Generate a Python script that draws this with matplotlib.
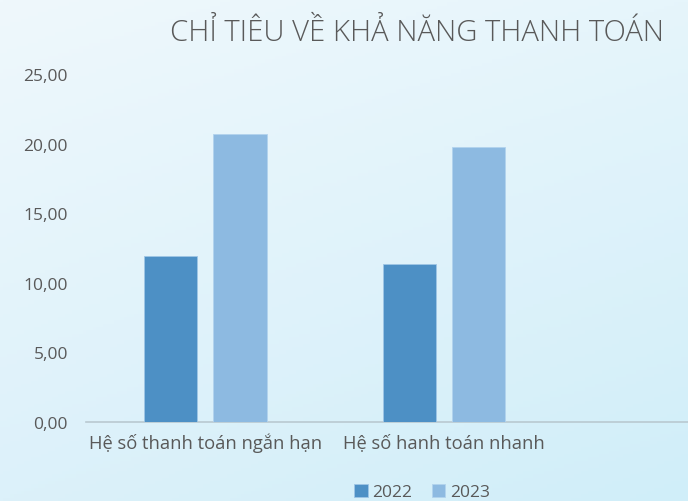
import numpy as np
import matplotlib
matplotlib.use("Agg")
import matplotlib.pyplot as plt

# Data
categories = ["Hệ số thanh toán ngắn hạn", "Hệ số hanh toán nhanh", ""]
series_names = ["2022", "2023"]
values_2022 = [11.93, 11.32]
values_2023 = [20.70, 19.73]
y_ticks = [0, 5, 10, 15, 20, 25]
y_tick_labels = ["0,00", "5,00", "10,00", "15,00", "20,00", "25,00"]
title = "CHỈ TIÊU VỀ KHẢ NĂNG THANH TOÁN"

plt.rcParams["font.family"] = ["Open Sans", "DejaVu Sans"]

text_color = "#595959"
color_2022 = "#4d90c5"
color_2023 = "#8dbae1"

fig = plt.figure(figsize=(6.88, 5.02), dpi=100)

# soft blue gradient background
bg = fig.add_axes([0, 0, 1, 1], zorder=-10)
bg.set_axis_off()
tl = np.array([0xef, 0xf8, 0xfc]) / 255
tr = np.array([0xe6, 0xf5, 0xfb]) / 255
bl = np.array([0xdc, 0xf1, 0xfa]) / 255
br = np.array([0xd0, 0xee, 0xf9]) / 255
u = np.linspace(0, 1, 200)[None, :, None]
v = np.linspace(0, 1, 150)[:, None, None]
grad = (1 - v) * ((1 - u) * tl + u * tr) + v * ((1 - u) * bl + u * br)
bg.imshow(grad, aspect="auto", extent=[0, 1, 0, 1], origin="upper")
bg.set_xlim(0, 1)
bg.set_ylim(0, 1)

ax = fig.add_axes([86 / 688, (502 - 422.7) / 502, (688 - 86) / 688, 347.7 / 502])
ax.patch.set_alpha(0)

x = np.arange(len(values_2022))
width = 0.2236
offset = 0.1447
ax.bar(x - offset, values_2022, width, color=color_2022, edgecolor="#9fc6e6",
       linewidth=0.6, label=series_names[0], zorder=3)
ax.bar(x + offset, values_2023, width, color=color_2023, edgecolor="#b2d3ee",
       linewidth=0.6, label=series_names[1], zorder=3)

ax.set_xlim(-0.5, 2.023)
ax.set_ylim(0, 25)
ax.set_yticks(y_ticks)
ax.set_yticklabels(y_tick_labels, fontsize=12.5, color=text_color)
ax.set_xticks(np.arange(len(categories)))
ax.set_xticklabels(categories, fontsize=13.2, color=text_color)
ax.tick_params(axis="both", length=0)
ax.tick_params(axis="y", pad=13)
ax.tick_params(axis="x", pad=8)

for side in ["top", "right", "left"]:
    ax.spines[side].set_visible(False)
ax.spines["bottom"].set_color("#b9c9d1")
ax.spines["bottom"].set_linewidth(1.2)

fig.text(417 / 688, 1 - 33 / 502, title, ha="center", va="center",
         fontsize=21.1, fontweight="light", color=text_color)

leg = fig.legend(loc="center", bbox_to_anchor=(422 / 688, 1 - 493 / 502), ncol=2,
                 frameon=False, fontsize=12.5, handlelength=0.8, handleheight=0.8,
                 handletextpad=0.25, columnspacing=1.1)
for t in leg.get_texts():
    t.set_color(text_color)

fig.savefig("out.png", dpi=100)
